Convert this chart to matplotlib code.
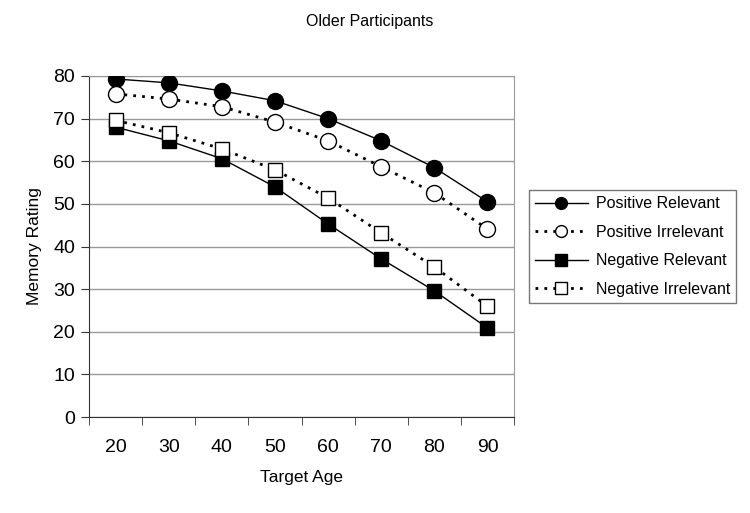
import matplotlib
matplotlib.use("Agg")
import matplotlib.pyplot as plt
import numpy as np

plt.rcParams['font.family'] = ['Liberation Sans', 'DejaVu Sans']

ages = [20, 30, 40, 50, 60, 70, 80, 90]
pos_relevant = [79.3, 78.4, 76.5, 74.2, 70.0, 64.8, 58.5, 50.5]
pos_irrelevant = [75.8, 74.6, 72.8, 69.2, 64.8, 58.7, 52.6, 44.1]
neg_relevant = [68.0, 64.8, 60.6, 54.0, 45.3, 37.1, 29.6, 20.9]
neg_irrelevant = [69.6, 66.7, 62.9, 58.0, 51.4, 43.2, 35.2, 26.0]

fig = plt.figure(figsize=(7.5, 5.13), dpi=100)
ax = fig.add_axes([89/750, 1-417/513, (514-89)/750, (417-76)/513])

x = np.arange(len(ages))
dot = (0, (1, 2.2))
ax.plot(x, pos_relevant, color='black', lw=1, marker='o', ms=11.5,
        mfc='black', mec='black', label='Positive Relevant', zorder=5)
ax.plot(x, pos_irrelevant, color='black', lw=2, ls=dot, marker='o', ms=11.5,
        mfc='white', mec='black', mew=1, label='Positive Irrelevant', zorder=5)
ax.plot(x, neg_relevant, color='black', lw=1, marker='s', ms=10.5,
        mfc='black', mec='black', label='Negative Relevant', zorder=5)
ax.plot(x, neg_irrelevant, color='black', lw=2, ls=dot, marker='s', ms=10.5,
        mfc='white', mec='black', mew=1, label='Negative Irrelevant', zorder=5)

ax.set_xlim(-0.5, len(ages) - 0.5)
ax.set_ylim(0, 80)
ax.set_yticks(range(0, 81, 10))
ax.set_xticks(x)
ax.set_xticklabels([str(a) for a in ages], fontsize=14)
ax.set_xticks(np.arange(-0.5, len(ages)), minor=True)
ax.tick_params(axis='x', which='major', length=0, pad=16)
ax.tick_params(axis='x', which='minor', length=6, direction='out', color='#333333')
ax.tick_params(axis='y', length=6, direction='out', labelsize=14, color='#333333', pad=4)
ax.yaxis.grid(True, color='#999999', lw=1)
ax.set_axisbelow(True)

for s in ['top', 'right']:
    ax.spines[s].set_color('#999999')
for s in ['left', 'bottom']:
    ax.spines[s].set_color('#333333')

ax.set_xlabel('Target Age', fontsize=12.5, labelpad=10)
ax.set_ylabel('Memory Rating', fontsize=12.5, labelpad=8)
fig.text(0.493, 0.958, 'Older Participants', ha='center', va='center', fontsize=11.5)

leg = ax.legend(loc='center left', bbox_to_anchor=(1.035, 0.5), fontsize=11.5,
                frameon=True, fancybox=False, edgecolor='#555555',
                handlelength=3.3, borderpad=0.38, labelspacing=0.85,
                handletextpad=0.5, borderaxespad=0.0)
leg.get_frame().set_linewidth(1)
for h in leg.legend_handles:
    h.set_markersize(8.5)

fig.savefig('out.png', dpi=100)
